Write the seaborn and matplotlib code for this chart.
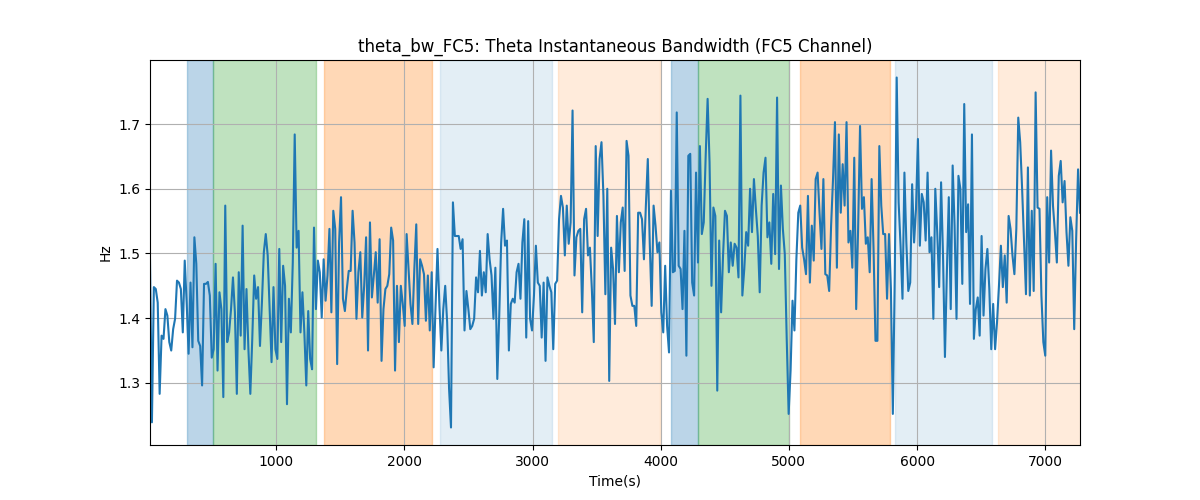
import numpy as np
import pandas as pd
import matplotlib
matplotlib.use("Agg")
import matplotlib.pyplot as plt
import seaborn as sns

# ---- data ----
t_start = 16.0
t_end = 7271.0

bw_values = [
    # segment 1
    1.490, 1.239, 1.448, 1.445, 1.424, 1.283, 1.373, 1.368, 1.414, 1.404,
    1.363, 1.350, 1.383, 1.399, 1.458, 1.455, 1.445, 1.378, 1.489, 1.424,
    1.345, 1.455, 1.355, 1.525, 1.484, 1.365, 1.357, 1.296, 1.453, 1.453,
    1.456, 1.435, 1.339, 1.352, 1.484, 1.319, 1.440, 1.414, 1.278,
    # segment 2
    1.574, 1.363, 1.378, 1.414, 1.463, 1.409, 1.283, 1.471, 1.373, 1.543,
    1.352, 1.445, 1.352, 1.283, 1.368, 1.466, 1.430, 1.448, 1.357, 1.424,
    1.502, 1.530, 1.497, 1.414, 1.332, 1.448, 1.352, 1.337, 1.507, 1.363,
    1.481, 1.450, 1.267, 1.430, 1.378, 1.486, 1.684, 1.509, 1.535, 1.378,
    1.440,
    # segment 3
    1.378, 1.296, 1.411, 1.337, 1.321, 1.540, 1.414, 1.489, 1.471, 1.401,
    1.491, 1.427, 1.466, 1.538, 1.409, 1.566, 1.538, 1.329, 1.517, 1.587,
    1.430, 1.411, 1.445, 1.473, 1.473, 1.566, 1.517, 1.399, 1.471, 1.502,
    1.401, 1.450, 1.525, 1.350, 1.548, 1.432, 1.466, 1.502, 1.424, 1.522,
    1.334,
    # segment 4
    1.414, 1.445, 1.450, 1.468, 1.540, 1.520, 1.319, 1.450, 1.363, 1.450,
    1.422, 1.388, 1.530, 1.476, 1.422, 1.391, 1.476, 1.545, 1.391, 1.491,
    1.481, 1.468, 1.396, 1.466, 1.381, 1.471, 1.324, 1.419, 1.507, 1.419,
    1.350, 1.414, 1.450, 1.394, 1.291, 1.231, 1.579, 1.527, 1.527,
    # segment 5
    1.527, 1.507, 1.522, 1.381, 1.442, 1.414, 1.383, 1.388, 1.399, 1.463,
    1.440, 1.504, 1.435, 1.471, 1.440, 1.530, 1.491, 1.466, 1.399, 1.478,
    1.306, 1.404, 1.517, 1.569, 1.512, 1.520, 1.350, 1.422, 1.430, 1.424,
    1.471, 1.484, 1.430, 1.517, 1.553, 1.370, 1.550, 1.399, 1.381, 1.435,
    1.512, 1.455,
    # segment 6
    1.450, 1.370, 1.455, 1.334, 1.463, 1.450, 1.440, 1.352, 1.453, 1.458,
    1.553, 1.589, 1.571, 1.497, 1.574, 1.515, 1.548, 1.721, 1.466, 1.525,
    1.535, 1.538, 1.409, 1.553, 1.569, 1.497, 1.509, 1.445, 1.363, 1.666,
    1.527, 1.646, 1.672, 1.589, 1.437, 1.600, 1.303, 1.509, 1.476, 1.391,
    1.558,
    # segment 7
    1.471, 1.548, 1.571, 1.473, 1.674, 1.651, 1.435, 1.419, 1.419, 1.388,
    1.563, 1.563, 1.553, 1.491, 1.574, 1.646, 1.517, 1.419, 1.574, 1.543,
    1.502, 1.517, 1.409, 1.378, 1.481, 1.388, 1.347, 1.597, 1.471, 1.473,
    1.718, 1.481, 1.476, 1.414, 1.535, 1.342, 1.651, 1.654, 1.455, 1.435,
    # segment 8
    1.625, 1.486, 1.666, 1.530, 1.548, 1.651, 1.739, 1.641, 1.450, 1.571,
    1.558, 1.288, 1.520, 1.409, 1.497, 1.566, 1.558, 1.471, 1.517, 1.481,
    1.515, 1.509, 1.463, 1.744, 1.435, 1.476, 1.533, 1.512, 1.600, 1.533,
    1.615, 1.569, 1.527, 1.440, 1.574, 1.625, 1.648, 1.525, 1.548, 1.484,
    # segment 9
    1.592, 1.499, 1.741, 1.476, 1.605, 1.538, 1.499, 1.368, 1.252, 1.319,
    1.427, 1.381, 1.491, 1.563, 1.574, 1.509, 1.491, 1.468, 1.589, 1.455,
    1.543, 1.489, 1.615, 1.625, 1.563, 1.507, 1.615, 1.468, 1.466, 1.442,
    1.543, 1.615, 1.703, 1.478, 1.684, 1.563, 1.638, 1.574, 1.703, 1.517,
    # segment 10
    1.535, 1.478, 1.648, 1.414, 1.538, 1.697, 1.569, 1.587, 1.515, 1.525,
    1.471, 1.615, 1.507, 1.365, 1.365, 1.666, 1.574, 1.530, 1.530, 1.430,
    1.530, 1.445, 1.252, 1.466, 1.772, 1.579, 1.512, 1.430, 1.625, 1.517,
    1.442, 1.455, 1.607, 1.517, 1.569, 1.677, 1.512, 1.592, 1.579, 1.520,
    1.625, 1.502,
    # segment 11
    1.525, 1.399, 1.600, 1.533, 1.448, 1.610, 1.497, 1.340, 1.471, 1.587,
    1.414, 1.636, 1.543, 1.399, 1.620, 1.600, 1.453, 1.731, 1.533, 1.576,
    1.422, 1.684, 1.368, 1.414, 1.432, 1.373, 1.527, 1.404, 1.476, 1.507,
    1.445, 1.352, 1.422, 1.352, 1.394, 1.450, 1.512, 1.448, 1.497, 1.424,
    1.558,
    # segment 12
    1.538, 1.497, 1.468, 1.538, 1.710, 1.672, 1.600, 1.517, 1.437, 1.633,
    1.435, 1.566, 1.442, 1.749, 1.571, 1.569, 1.435, 1.363, 1.342, 1.587,
    1.486, 1.659, 1.574, 1.533, 1.486, 1.620, 1.643, 1.579, 1.612, 1.533,
    1.481, 1.556, 1.535, 1.383, 1.522, 1.630, 1.563,
]

band_starts = [302, 508, 1375, 2275, 3196, 4078, 4289, 5085, 5826, 6630]
band_ends = [508, 1312, 2218, 3149, 3997, 4289, 5002, 5787, 6583, 7300]
band_colors = ["tab:blue", "tab:green", "tab:orange", "tab:blue", "tab:orange",
               "tab:blue", "tab:green", "tab:orange", "tab:blue", "tab:orange"]
band_alphas = [0.3, 0.3, 0.3, 0.12, 0.15, 0.3, 0.3, 0.3, 0.12, 0.15]

title = "theta_bw_FC5: Theta Instantaneous Bandwidth (FC5 Channel)"

# ---- plot ----
time = np.linspace(t_start, t_end, len(bw_values))
df = pd.DataFrame({"Time(s)": time, "Hz": bw_values})

fig, ax = plt.subplots(figsize=(12, 5), dpi=100)
for s, e, c, a in zip(band_starts, band_ends, band_colors, band_alphas):
    ax.axvspan(s, e, color=c, alpha=a)

sns.lineplot(data=df, x="Time(s)", y="Hz", ax=ax, color="tab:blue", linewidth=1.5)
ax.set_xlim(time.min(), time.max())
ax.grid(True)
ax.set_title(title)
ax.set_xlabel("Time(s)")
ax.set_ylabel("Hz")

fig.savefig("out.png", dpi=100)
